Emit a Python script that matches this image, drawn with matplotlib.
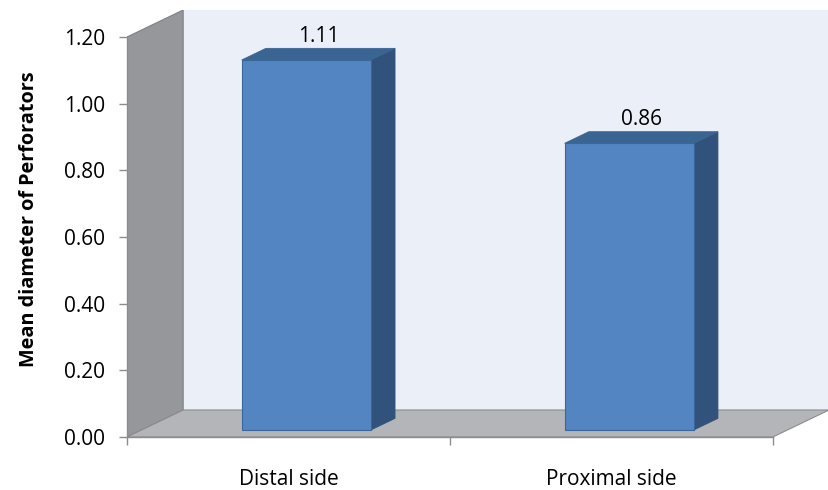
import matplotlib
matplotlib.use("Agg")
import matplotlib.pyplot as plt
from matplotlib.patches import Polygon, Rectangle

categories = ["Distal side", "Proximal side"]
values = [1.11, 0.86]
value_labels = ["1.11", "0.86"]
yticks = [0.0, 0.2, 0.4, 0.6, 0.8, 1.0, 1.2]
ytick_labels = ["0.00", "0.20", "0.40", "0.60", "0.80", "1.00", "1.20"]
ylabel = "Mean diameter of Perforators"

plt.rcParams['font.family'] = ['Open Sans', 'DejaVu Sans']

W, H = 829, 490
fig = plt.figure(figsize=(W / 100, H / 100), dpi=100)
ax = fig.add_axes([127 / W, (H - 437) / H, (829 - 127) / W, (437 - 10) / H])

YMAX = 1.2
DX = 56 / 322.0    # depth offset in category units
DY = 27 / 333.3    # depth offset in value units
d0, d1 = 0.26, 0.69
bw = 0.40

ax.set_xlim(-0.5, 1.5 + DX)
ax.set_ylim(0, YMAX + DY)
ax.patch.set_visible(False)

wall_c = "#EBEFF8"
side_c = "#96979B"
floor_c = "#B4B5B9"
edge_c = "#8C8C8C"

# back wall
ax.add_patch(Rectangle((-0.5 + DX, DY), 2.0, YMAX, facecolor=wall_c, edgecolor="none", zorder=0))
# left side wall
ax.add_patch(Polygon([(-0.5, 0), (-0.5, YMAX), (-0.5 + DX, YMAX + DY), (-0.5 + DX, DY)],
                     closed=True, facecolor=side_c, edgecolor="#7F8084", linewidth=0.8, zorder=1))
# floor
ax.add_patch(Polygon([(-0.5, 0), (-0.5 + DX, DY), (1.5 + DX, DY), (1.5, 0)],
                     closed=True, facecolor=floor_c, edgecolor=edge_c, linewidth=0.8, zorder=1))

front_c = "#5385C2"
bar_side_c = "#31527A"
top_c = "#3A6592"
bar_edge = "#3A6699"

x = list(range(len(categories)))
shift = 0.01
for xi, v, lab in zip(x, values, value_labels):
    xl = xi - bw / 2 + shift
    xr = xi + bw / 2 + shift
    # side face
    ax.add_patch(Polygon([(xr + d0 * DX, d0 * DY), (xr + d1 * DX, d1 * DY),
                          (xr + d1 * DX, d1 * DY + v), (xr + d0 * DX, d0 * DY + v)],
                         closed=True, facecolor=bar_side_c, edgecolor=bar_side_c, linewidth=0.6, zorder=3))
    # top face
    ax.add_patch(Polygon([(xl + d0 * DX, d0 * DY + v), (xl + d1 * DX, d1 * DY + v),
                          (xr + d1 * DX, d1 * DY + v), (xr + d0 * DX, d0 * DY + v)],
                         closed=True, facecolor=top_c, edgecolor=top_c, linewidth=0.6, zorder=3))
# front faces via bar
ax.bar([xi + shift + d0 * DX for xi in x], values, width=bw, bottom=d0 * DY,
       color=front_c, edgecolor=bar_edge, linewidth=0.8, zorder=4)

for xi, v, lab in zip(x, values, value_labels):
    ax.annotate(lab, xy=(xi + shift + (d0 + d1) / 2 * DX, d1 * DY + v), xytext=(0, 1),
                textcoords="offset points", ha="center", va="bottom", fontsize=15, color="black", zorder=5)

# axes styling
for s in ["top", "right"]:
    ax.spines[s].set_visible(False)
ax.spines["left"].set_bounds(0, YMAX)
ax.spines["bottom"].set_bounds(-0.5, 1.5)
ax.spines["left"].set_color(edge_c)
ax.spines["bottom"].set_color(edge_c)
ax.spines["left"].set_linewidth(1.0)
ax.spines["bottom"].set_linewidth(1.0)
ax.spines["left"].set_zorder(2)
ax.spines["bottom"].set_zorder(2)

ax.set_yticks(yticks)
ax.set_yticklabels(ytick_labels, fontsize=15)
ax.tick_params(axis="y", direction="out", length=6, width=1.0, color=edge_c, pad=10)

ax.set_xticks([-0.5, 0.5, 1.5])
ax.set_xticklabels([])
ax.set_xticks(x, minor=True)
ax.set_xticklabels(categories, minor=True, fontsize=15)
ax.tick_params(axis="x", which="major", direction="out", length=6, width=1.0, color=edge_c)
ax.tick_params(axis="x", which="minor", length=0, pad=23)

ax.set_ylabel(ylabel, fontsize=14.3, fontweight="bold")
ax.yaxis.set_label_coords(-0.125, 0.51)

fig.savefig("out.png", dpi=100)
